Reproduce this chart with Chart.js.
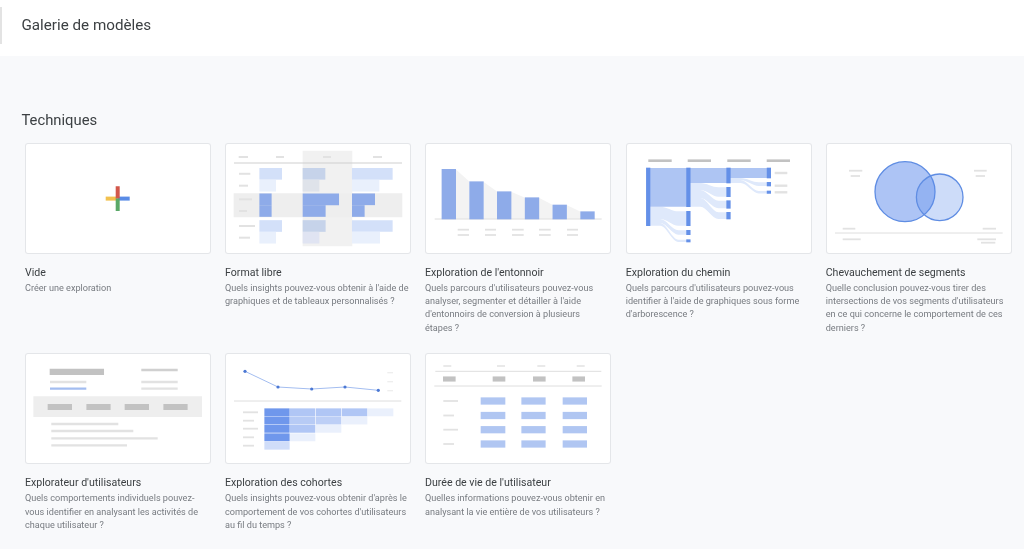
<!DOCTYPE html>
<html lang="fr"><head><meta charset="utf-8"><title>Galerie de modèles</title>
<script src="https://cdn.jsdelivr.net/npm/chart.js@4"></script>
<style>
html,body{margin:0;padding:0;width:1024px;height:549px;overflow:hidden;background:#f8f9fb;font-family:Roboto,Arial,sans-serif}
#head{position:absolute;left:0;top:0;width:1024px;height:56px;background:#fff}
#mark{position:absolute;left:0;top:7px;width:2px;height:37px;background:#e3e3e3}
#t1{position:absolute;left:21.5px;top:14px;font-size:15.2px;line-height:22px;color:#3c4043;white-space:nowrap;filter:blur(.25px)}
#t2{position:absolute;left:21.5px;top:108.8px;font-size:14.8px;line-height:22px;color:#3c4043;white-space:nowrap;filter:blur(.25px)}
.card{position:absolute;width:186px;height:111px;background:#fff;border-radius:3px}
.card::after{content:"";position:absolute;inset:0;border-radius:3px;box-shadow:inset 0 0 0 1px #e4e6e9}
.card canvas{position:absolute;left:0;top:0;filter:blur(.35px)}
.ct{position:absolute;font-size:10.6px;line-height:14px;color:#3c4043;white-space:nowrap;filter:blur(.25px)}
.cd{position:absolute;font-size:9.12px;line-height:13.35px;color:#777b80;white-space:nowrap;filter:blur(.25px)}
</style></head><body>
<div id="head"><div id="mark"></div><div id="t1">Galerie de modèles</div></div>
<div id="t2">Techniques</div>
<div id="cards"></div>
<script>
// ---- page text ----
const cardTitles = ["Vide","Format libre","Exploration de l'entonnoir","Exploration du chemin","Chevauchement de segments","Explorateur d'utilisateurs","Exploration des cohortes","Durée de vie de l'utilisateur"];
const cardTexts = [
 ["Créer une exploration"],
 ["Quels insights pouvez-vous obtenir à l'aide de","graphiques et de tableaux personnalisés ?"],
 ["Quels parcours d'utilisateurs pouvez-vous","analyser, segmenter et détailler à l'aide","d'entonnoirs de conversion à plusieurs","étapes ?"],
 ["Quels parcours d'utilisateurs pouvez-vous","identifier à l'aide de graphiques sous forme","d'arborescence ?"],
 ["Quelle conclusion pouvez-vous tirer des","intersections de vos segments d'utilisateurs","en ce qui concerne le comportement de ces","derniers ?"],
 ["Quels comportements individuels pouvez-","vous identifier en analysant les activités de","chaque utilisateur ?"],
 ["Quels insights pouvez-vous obtenir d'après le","comportement de vos cohortes d'utilisateurs","au fil du temps ?"],
 ["Quelles informations pouvez-vous obtenir en","analysant la vie entière de vos utilisateurs ?"]
];
const cardLefts = [25.3,225.3,425.3,626,826,25.3,225.3,425.3];
const cardTops = [142.7,142.7,142.7,142.7,142.7,353.3,353.3,353.3];

// ---- Vide : plus sign arms [x0,y0,x1,y1] ----
const plusRed=[92.7,43.3,92.7,55.6], plusGreen=[92.7,55.6,92.7,68], plusYellow=[80.7,51.7,92.7,51.7], plusBlue=[92.7,51.7,104.7,51.7];

// ---- Format libre ----
const freeRowY=[30.8,42.7,56.3,68,83,94.7];
const freeCol1=[22,16,11.6,11.6,22,16];
const freeCol2=[22,16,35.7,22.3,22.3,16];
const freeCol3=[40,26.7,22.4,12,40,27.4];
const freeColStart=[34.7,78,127.3];
const freeHeadX=[[13.7,23],[51,59],[98,106],[148,157]];
const freeLabelLen=[11.3,9,13,8,16,11];

// ---- Entonnoir ----
const funnelX=[23.8,51.5,79.2,107,134.7,162.5];
const funnelValues=[49.7,37.3,27.3,21.3,14,7.3];
const funnelLabelX=[[32.7,44],[60,71],[87,98.7],[114,125.7],[142,153]];

// ---- Chemin : nodes by column [top,bottom] ----
const pathColX=[22.2,62.4,102.5,142.9];
const pathNodes1=[[25,82.7]];
const pathNodes2=[[25,63.7],[68.3,82.7],[87.3,91.7],[96.7,99]];
const pathNodes3=[[25,40],[44.3,53.7],[57.7,65.3],[69.3,76]];
const pathNodes4=[[25,35],[39.3,43],[48,50.4]];
// flows [fromCol,topFrom,botFrom,topTo,botTo]
const pathMainFlows=[[0,25,63.7,25,63.7],[1,25,40,25,40],[2,25,35,25,35]];
const pathSideFlows=[[0,63.7,76,68.3,82.7],[0,76,80,87.3,91.7],[0,80,82.7,96.7,99],[1,40,47,44.3,53.7],[1,47,55,57.7,65.3],[1,55,63.7,69.3,76],[2,35,37,39.3,43],[2,37,40,48,50.4]];
const pathHeadX=[[22.3,45.7],[61.7,85],[101.3,124.7],[140.7,164]];
const pathLabels=[[30,148.7,161.3],[42.7,148.7,161.3],[49.3,148.7,161.3]];

// ---- Segments : circles ----
const vennBig=[{x:79,y:48.7,r:30}];
const vennSmall=[{x:113.7,y:54.3,r:23.3}];
const vennLabels=[[27.7,23,36.3],[33,24.7,34],[27.7,148,160.7],[33,149.7,159],[85.7,16.7,29.3],[96.3,16.7,34.7],[85.7,156.7,170],[96.3,151.3,170],[99.7,155,169.3]];

// ---- Utilisateurs ----
const userGreyLines=[[29,25,61.3],[17,116.3,152.7],[29,116.3,152.7],[35.7,116.3,152.7]];
const userBlueLine=[35.7,25,61.3];
const userCells=[[23,46.7],[61.7,85.3],[100,123.7],[138.7,162.3]];
const userList=[[71,26.3,93.3],[78,26.3,108.3],[85.3,26.3,132.7],[92.3,26.3,102]];

// ---- Cohortes ----
const cohortLineX=[20,53,86.7,120,153.3];
const cohortLineY=[18.3,34,36,34,37.3];
const cohortColX=[[39.7,64.3],[65.3,90],[91.3,116],[117.3,142],[143.3,168]];
const cohortRowY=[59.3,67.5,75.8,84.3,92.7];
const cohortShares=[[76,42,42,42,11],[76,38,35,11],[76,42,11],[76,11],[25]];
const cohortLabels=[[59.3,18,33],[67.7,18,29],[75.7,18,33],[84.3,18,29],[92.7,18,29]];
const cohortAxis=[[19.7,162.3,168],[28.7,162.3,168],[37.7,162.3,168]];

// ---- Durée de vie ----
const lifeColX=[[56,80],[96.7,120.3],[138,161.7]];
const lifeRowY=[48,62.5,76.7,91];
const lifeTop=[[18.3,26.3],[72,80],[112.3,120.3],[151.7,159.7]];
const lifeSub=[[18.3,30.3],[68,80],[108.3,120.3],[147.7,159.7]];
const lifeLabelLen=[14.7,10.7,14.7,10.7];

// ---- helpers ----
const GREY_L='#e2e2e2',GREY_M='#d0d0d0',GREY_D='#c2c2c2',BLUE='#8eabe9';
function seg(x0,y0,x1,y1,color,w){return {type:'line',data:[{x:x0,y:y0},{x:x1,y:y1}],borderColor:color,borderWidth:w,pointRadius:0,tension:0,fill:false};}
function rules(list,color,w){return list.map(r=>seg(r[1],r[0],r[2],r[0],color,w));}
function hbars(items,color,th){return {type:'bar',indexAxis:'y',stack:'s',barThickness:th,backgroundColor:color,borderWidth:0,data:items};}
function vbars(items,color,th){return {type:'bar',indexAxis:'x',stack:'s',barThickness:th,backgroundColor:color,borderWidth:0,data:items};}
function area(points,color,target){return {type:'line',data:points,borderWidth:0,pointRadius:0,backgroundColor:color,fill:target,tension:0};}
function draw(i,datasets,valueAxis){
  datasets.forEach((d,k)=>{d.order=-k;d.clip=false;});
  const x={type:'linear',display:false,min:0,max:186,offset:false},y={type:'linear',display:false,min:0,max:111,reverse:true,offset:false};
  (valueAxis==='y'?y:x).stacked=false;
  new Chart(document.getElementById('c'+i),{data:{datasets},options:{responsive:false,animation:false,events:[],layout:{padding:0,autoPadding:false},plugins:{legend:{display:false},tooltip:{enabled:false},title:{display:false}},scales:{x,y}}});
}

// ---- cards and text ----
const root=document.getElementById('cards');
cardTitles.forEach((t,i)=>{
  const l=cardLefts[i],tp=cardTops[i];
  let h=`<div class="card" style="left:${l}px;top:${tp}px"><canvas id="c${i}" width="186" height="111"></canvas></div>`;
  h+=`<div class="ct" style="left:${l-.3}px;top:${tp+123}px">${t}</div>`;
  h+=`<div class="cd" style="left:${l-.3}px;top:${tp+139}px">${cardTexts[i].join('<br>')}</div>`;
  root.insertAdjacentHTML('beforeend',h);
});

// Vide
draw(0,[seg(plusYellow[0],55.6,plusYellow[2],55.6,'#f2c14e',4),seg(plusBlue[0],55.6,plusBlue[2],55.6,'#5a8be6',4),seg(plusRed[0],plusRed[1],plusRed[2],plusRed[3],'#d2574a',4),seg(plusGreen[0],plusGreen[1],plusGreen[2],plusGreen[3],'#5aa868',4)],'x');

// Format libre
(function(){
  const ds=[];
  ds.push(hbars([{y:55.5,x:[78,127]}],'#f1f1f1',95));
  ds.push(hbars([{y:62.3,x:[9,177]}],'#eeeeee',23.4));
  ds.push(...rules(freeHeadX.map((r,i)=>[14,r[0],r[1]]),GREY_L,2));
  ds.push(seg(9,20,177,20,'#cfcfcf',1.2));
  ds.push(...rules(freeRowY.map((y,i)=>[y,14,14+freeLabelLen[i]]),GREY_L,2));
  const pal=[['#d3e0f9','#e9f0fc',BLUE,BLUE,'#d3e0f9','#e9f0fc'],['#c6d3ea','#dfe3ea',BLUE,BLUE,'#c6d3ea','#e0e4f2'],['#d3e0f9','#e9f0fc',BLUE,BLUE,'#d3e0f9','#e9f0fc']];
  [freeCol1,freeCol2,freeCol3].forEach((col,c)=>{
    ds.push(hbars(col.map((v,r)=>({y:freeRowY[r],x:[freeColStart[c],freeColStart[c]+v]})),pal[c],11));
  });
  draw(1,ds,'x');
})();

// Entonnoir
(function(){
  const base=76,half=6.85,ds=[];
  funnelValues.slice(0,-1).forEach((v,i)=>{
    ds.push(area([{x:funnelX[i]+half,y:base-v},{x:funnelX[i+1]-half,y:base-funnelValues[i+1]}],'#f3f3f3',{value:base}));
  });
  ds.push(seg(9.7,base,176.7,base,'#dedede',1));
  ds.push(vbars(funnelValues.map((v,i)=>({x:funnelX[i],y:[base,base-v]})),BLUE,13.7));
  funnelLabelX.forEach(r=>{ds.push(seg(r[0],86.7,r[1],86.7,GREY_L,1.8));ds.push(seg(r[0],92,r[1],92,GREY_L,1.8));});
  draw(2,ds,'y');
})();

// Chemin
(function(){
  const ds=[];
  function flow(f,color){
    const a=pathColX[f[0]],b=pathColX[f[0]+1],w=b-a;
    const curve=(p,q)=>[{x:a,y:p},{x:a+.3*w,y:p},{x:a+.75*w,y:q},{x:b,y:q}];
    ds.push({type:'line',data:curve(f[1],f[3]),borderWidth:0,pointRadius:0,backgroundColor:color,fill:'+1',cubicInterpolationMode:'monotone'});
    ds.push({type:'line',data:curve(f[2],f[4]),borderWidth:0,pointRadius:0,fill:false,cubicInterpolationMode:'monotone'});
  }
  pathSideFlows.forEach(f=>flow(f,'#dfe9fb'));
  pathMainFlows.forEach(f=>flow(f,'#aec5f3'));
  [pathNodes1,pathNodes2,pathNodes3,pathNodes4].forEach((n,c)=>{
    ds.push(vbars(n.map(r=>({x:pathColX[c],y:r})),'#6490e8',3.6));
  });
  pathHeadX.forEach(r=>ds.push(seg(r[0],17.7,r[1],17.7,GREY_D,2.6)));
  ds.push(...rules(pathLabels,GREY_L,2.4));
  draw(3,ds,'y');
})();

// Segments
(function(){
  const ds=[];
  ds.push(...rules(vennLabels,GREY_L,1.8));
  ds.push(seg(9,90,176.7,90,'#dedede',1));
  ds.push({type:'bubble',data:vennBig,backgroundColor:'rgba(91,138,235,.5)',borderColor:'#5f8de3',borderWidth:1.3});
  ds.push({type:'bubble',data:vennSmall,backgroundColor:'rgba(91,138,235,.3)',borderColor:'#5f8de3',borderWidth:1.3});
  draw(4,ds,'x');
})();

// Utilisateurs
(function(){
  const ds=[];
  ds.push(hbars([{y:53.7,x:[8.7,176.7]}],'#eeeeee',20));
  ds.push(hbars(userCells.map(c=>({y:54,x:c})),GREY_D,5.4));
  ds.push(hbars([{y:18.9,x:[25,78.7]}],GREY_D,5.7));
  ds.push(...rules(userGreyLines,GREY_L,2.3));
  ds[ds.length-3].borderColor=GREY_M;
  ds.push(seg(userBlueLine[1],userBlueLine[0],userBlueLine[2],userBlueLine[0],'#a3bdf0',2.3));
  ds.push(...rules(userList,GREY_L,2.3));
  draw(5,ds,'x');
})();

// Cohortes
(function(){
  const ds=[];
  ds.push({type:'line',data:cohortLineX.map((x,i)=>({x,y:cohortLineY[i]})),borderColor:'#a3bdf0',borderWidth:1,tension:0,fill:false,pointRadius:1.6,pointBackgroundColor:'#4b78d4',pointBorderWidth:0});
  ds.push(...rules(cohortAxis,'#ececec',1.2));
  ds.push(seg(9,48,176.3,48,'#dedede',1));
  ds.push(...rules(cohortLabels,GREY_L,1.8));
  cohortShares.forEach((row,r)=>{
    ds.push(hbars(row.map((v,c)=>({y:cohortRowY[r],x:cohortColX[c]})),row.map(v=>`rgba(66,118,230,${v/100})`),7.2));
  });
  draw(6,ds,'x');
})();

// Durée de vie
(function(){
  const ds=[];
  ds.push(...rules(lifeTop.map(r=>[13,r[0],r[1]]),GREY_L,1.5));
  ds.push(seg(10.3,18.3,176.3,18.3,'#dedede',1));
  ds.push(hbars(lifeSub.map(r=>({y:26,x:r})),GREY_D,4.5));
  ds.push(seg(9.3,33,176.7,33,'#dedede',1));
  ds.push(...rules(lifeRowY.map((y,i)=>[y,18.3,18.3+lifeLabelLen[i]]),GREY_L,1.8));
  lifeColX.forEach(c=>ds.push(hbars(lifeRowY.map(y=>({y,x:c})),'#b0c6f2',6.6)));
  draw(7,ds,'x');
})();
</script>
</body></html>
